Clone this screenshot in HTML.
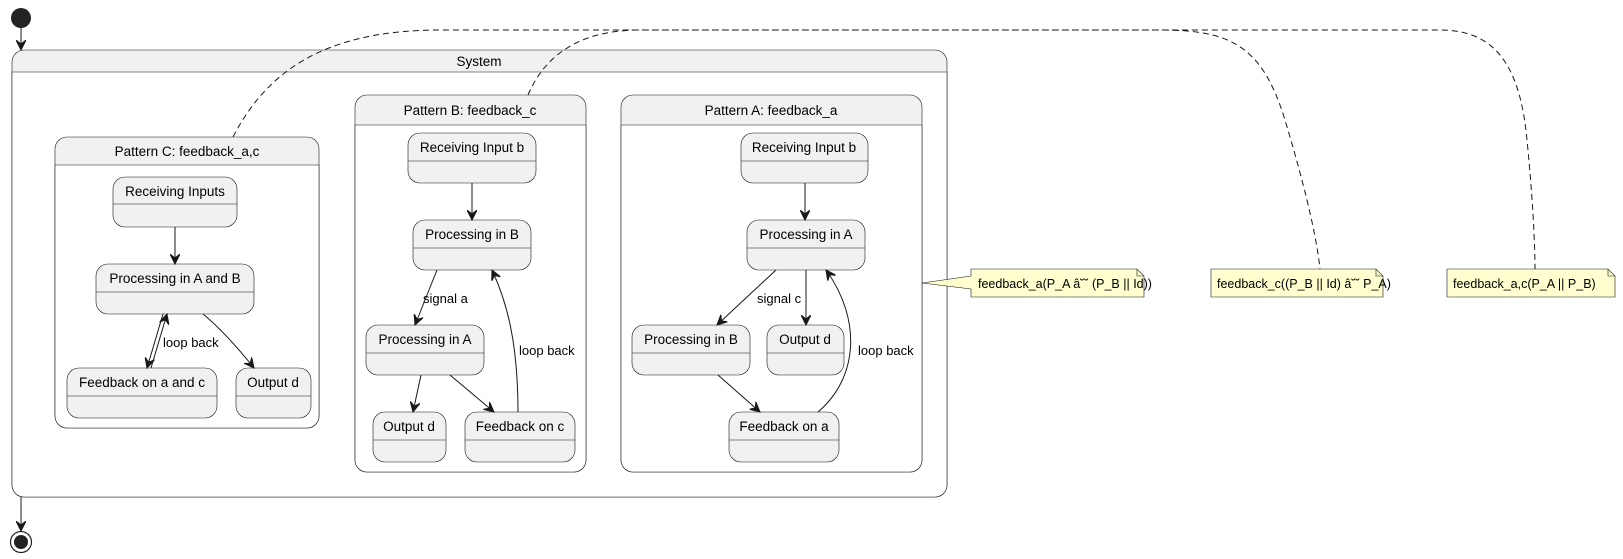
<!DOCTYPE html>
<html><head><meta charset="utf-8"><style>
html,body{margin:0;padding:0;background:#fff;}
svg{display:block;font-family:"Liberation Sans",sans-serif;}
</style></head><body>
<svg width="1623" height="559" viewBox="0 0 1623 559" xmlns="http://www.w3.org/2000/svg">
<defs>
<marker id="ar" markerWidth="12" markerHeight="10" refX="10" refY="5" orient="auto" markerUnits="userSpaceOnUse">
<path d="M0,0 L10,5 L0,10 L4,5 Z" fill="#181818" stroke="#181818" stroke-width="1"/>
</marker>
</defs>

<rect x="12" y="50" width="935" height="447" rx="12" fill="#f1f1f1" stroke="#181818" stroke-width="0.6"/>
<path d="M12,72 H947 V485 a12,12 0 0 1 -12,12 H24 a12,12 0 0 1 -12,-12 Z" fill="#fff" stroke="#181818" stroke-width="0.6"/>
<text x="479" y="66" font-size="13.5" text-anchor="middle">System</text>

<rect x="55" y="137" width="264" height="291" rx="12" fill="#f1f1f1" stroke="#181818" stroke-width="0.6"/>
<path d="M55,165 H319 V416 a12,12 0 0 1 -12,12 H67 a12,12 0 0 1 -12,-12 Z" fill="#fff" stroke="#181818" stroke-width="0.6"/>
<text x="187" y="156" font-size="13.5" text-anchor="middle">Pattern C: feedback_a,c</text>

<rect x="355" y="95" width="231" height="377" rx="12" fill="#f1f1f1" stroke="#181818" stroke-width="0.6"/>
<path d="M355,125 H586 V460 a12,12 0 0 1 -12,12 H367 a12,12 0 0 1 -12,-12 Z" fill="#fff" stroke="#181818" stroke-width="0.6"/>
<text x="470" y="115" font-size="13.5" text-anchor="middle">Pattern B: feedback_c</text>

<rect x="621" y="95" width="301" height="377" rx="12" fill="#f1f1f1" stroke="#181818" stroke-width="0.6"/>
<path d="M621,125 H922 V460 a12,12 0 0 1 -12,12 H633 a12,12 0 0 1 -12,-12 Z" fill="#fff" stroke="#181818" stroke-width="0.6"/>
<text x="771" y="115" font-size="13.5" text-anchor="middle">Pattern A: feedback_a</text>

<g fill="none" stroke="#181818" stroke-width="1" stroke-dasharray="6,4">
<path d="M233,137 C265,75 320,30 440,30 L1160,30 C1230,30 1262,45 1285,120 C1300,170 1316,230 1320,269"/>
<path d="M528,95 C545,55 580,30 640,30 L1440,30 C1495,30 1520,65 1527,140 C1532,190 1535,240 1535,269"/>
</g>

<g font-size="13.5" text-anchor="middle">
<g fill="#f1f1f1" stroke="#181818" stroke-width="0.6">
<rect x="113" y="177" width="124" height="50" rx="12"/><line x1="113" y1="204" x2="237" y2="204"/>
<rect x="96" y="264" width="158" height="50" rx="12"/><line x1="96" y1="292" x2="254" y2="292"/>
<rect x="67" y="368" width="150" height="50" rx="12"/><line x1="67" y1="396" x2="217" y2="396"/>
<rect x="236" y="368" width="75" height="50" rx="12"/><line x1="236" y1="396" x2="311" y2="396"/>

<rect x="408" y="133" width="128" height="50" rx="12"/><line x1="408" y1="161" x2="536" y2="161"/>
<rect x="413" y="220" width="118" height="50" rx="12"/><line x1="413" y1="248" x2="531" y2="248"/>
<rect x="366" y="325" width="118" height="50" rx="12"/><line x1="366" y1="353" x2="484" y2="353"/>
<rect x="373" y="412" width="73" height="50" rx="12"/><line x1="373" y1="440" x2="446" y2="440"/>
<rect x="465" y="412" width="110" height="50" rx="12"/><line x1="465" y1="440" x2="575" y2="440"/>

<rect x="741" y="133" width="127" height="50" rx="12"/><line x1="741" y1="161" x2="868" y2="161"/>
<rect x="747" y="220" width="118" height="50" rx="12"/><line x1="747" y1="248" x2="865" y2="248"/>
<rect x="632" y="325" width="118" height="50" rx="12"/><line x1="632" y1="353" x2="750" y2="353"/>
<rect x="767" y="325" width="77" height="50" rx="12"/><line x1="767" y1="353" x2="844" y2="353"/>
<rect x="729" y="412" width="110" height="50" rx="12"/><line x1="729" y1="440" x2="839" y2="440"/>
</g>
<text x="175" y="196">Receiving Inputs</text>
<text x="175" y="283">Processing in A and B</text>
<text x="142" y="387">Feedback on a and c</text>
<text x="273" y="387">Output d</text>
<text x="472" y="152">Receiving Input b</text>
<text x="472" y="239">Processing in B</text>
<text x="425" y="344">Processing in A</text>
<text x="409" y="431">Output d</text>
<text x="520" y="431">Feedback on c</text>
<text x="804" y="152">Receiving Input b</text>
<text x="806" y="239">Processing in A</text>
<text x="691" y="344">Processing in B</text>
<text x="805" y="344">Output d</text>
<text x="784" y="431">Feedback on a</text>
</g>

<g fill="none" stroke="#181818" stroke-width="1" marker-end="url(#ar)">
<line x1="21" y1="28" x2="21" y2="50"/>
<line x1="21" y1="497" x2="21" y2="531"/>
<line x1="175" y1="227" x2="175" y2="264"/>
<line x1="163" y1="314" x2="147" y2="368"/>
<line x1="151" y1="368" x2="167" y2="314"/>
<path d="M203,314 C220,328 238,348 254,368"/>
<line x1="472" y1="183" x2="472" y2="220"/>
<line x1="437" y1="270" x2="415" y2="325"/>
<line x1="421" y1="375" x2="413" y2="412"/>
<line x1="450" y1="375" x2="494" y2="412"/>
<path d="M518,412 C518,340 506,300 492,270"/>
<line x1="805" y1="183" x2="805" y2="220"/>
<line x1="776" y1="270" x2="717" y2="325"/>
<line x1="806" y1="270" x2="806" y2="325"/>
<line x1="718" y1="375" x2="760" y2="412"/>
<path d="M818,412 C858,378 862,320 826,270"/>
</g>
<g font-size="13">
<text x="163" y="347">loop back</text>
<text x="423" y="303">signal a</text>
<text x="757" y="303">signal c</text>
<text x="519" y="355">loop back</text>
<text x="858" y="355">loop back</text>
</g>

<circle cx="21" cy="18" r="10" fill="#222"/>
<circle cx="21" cy="542" r="10.5" fill="#fff" stroke="#222" stroke-width="1.2"/>
<circle cx="21" cy="542" r="7" fill="#222"/>

<g font-size="12.5" stroke="#181818" stroke-width="0.6">
<path d="M922,283 L971,276 L971,269 H1137 L1144,276 V297 H971 V289 Z" fill="#fefece"/>
<path d="M1137,269 V276 H1144" fill="none"/>
<text x="978" y="288" stroke="none" fill="#000">feedback_a(P_A â˘˘ (P_B || Id))</text>
<path d="M1211,269 H1376 L1383,276 V297 H1211 Z" fill="#fefece"/>
<path d="M1376,269 V276 H1383" fill="none"/>
<text x="1217" y="288" stroke="none" fill="#000">feedback_c((P_B || Id) â˘˘ P_A)</text>
<path d="M1447,269 H1608 L1615,276 V297 H1447 Z" fill="#fefece"/>
<path d="M1608,269 V276 H1615" fill="none"/>
<text x="1453" y="288" stroke="none" fill="#000">feedback_a,c(P_A || P_B)</text>
</g>
</svg>
</body></html>
